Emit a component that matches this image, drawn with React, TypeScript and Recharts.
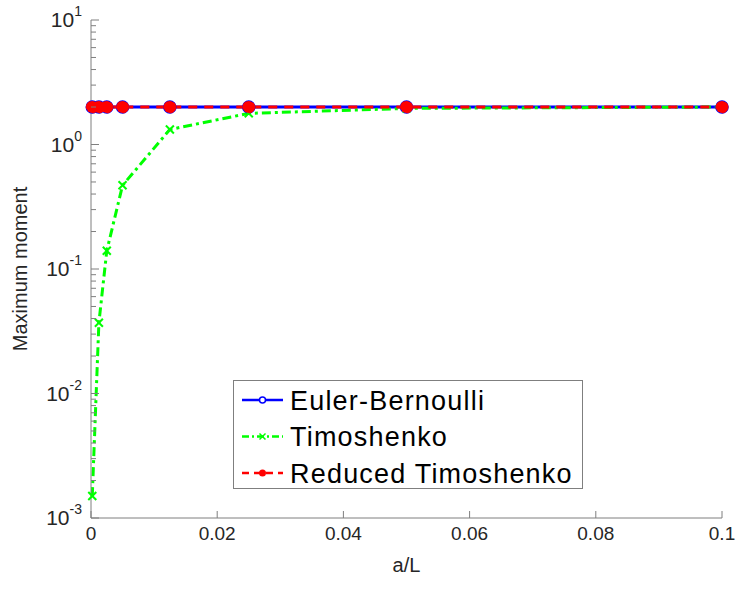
import React from "react";
import { LineChart, Line, XAxis, YAxis, Legend } from "recharts";

const aL = [0.0002, 0.00125, 0.0025, 0.005, 0.0125, 0.025, 0.05, 0.1];
const euler = [2, 2, 2, 2, 2, 2, 2, 2];
const timo = [0.0015, 0.037, 0.14, 0.47, 1.32, 1.78, 1.95, 2.0];
const reduced = [2, 2, 2, 2, 2, 2, 2, 2];

const xTicks = [0, 0.02, 0.04, 0.06, 0.08, 0.1];
const xTickLabels = ["0", "0.02", "0.04", "0.06", "0.08", "0.1"];
const decades = [-3, -2, -1, 0, 1];

const yTicks: number[] = [];
decades.forEach((d, i) => {
  yTicks.push(Math.pow(10, d));
  if (i < decades.length - 1) {
    for (let m = 2; m <= 9; m++) yTicks.push(m * Math.pow(10, d));
  }
});

const data = aL.map((x, i) => ({ x, eb: euler[i], t: timo[i], rt: reduced[i] }));

const AXIS = "#7f7f7f";
const TXT = "#262626";
const FONT = "'Liberation Sans', Arial, Helvetica, sans-serif";

function YTick({ x, y, payload }: any) {
  const v = payload.value;
  const lg = Math.log10(v);
  const major = Math.abs(lg - Math.round(lg)) < 1e-6;
  return (
    <g>
      <line x1={x} x2={x + (major ? 8 : 5)} y1={y} y2={y} stroke={AXIS} strokeWidth={1} />
      {major && (
        <text x={x - 9} y={y + 7} textAnchor="end" fill={TXT} fontSize={21} fontFamily={FONT}>
          <tspan>10</tspan>
          <tspan dy={-11} fontSize={14}>{String(Math.round(lg))}</tspan>
        </text>
      )}
    </g>
  );
}

function XTick({ x, y, payload, index }: any) {
  return (
    <g>
      <line x1={x} x2={x} y1={y} y2={y - 7} stroke={AXIS} strokeWidth={1} />
      <text x={x} y={y + 22} textAnchor="middle" fill={TXT} fontSize={19} fontFamily={FONT}>
        {xTickLabels[index] ?? payload.value}
      </text>
    </g>
  );
}

function CrossDot({ cx, cy }: any) {
  if (cx == null || cy == null) return null;
  const s = 4;
  return (
    <g>
      <line x1={cx - s} y1={cy - s} x2={cx + s} y2={cy + s} stroke="#00ff00" strokeWidth={2} />
      <line x1={cx - s} y1={cy + s} x2={cx + s} y2={cy - s} stroke="#00ff00" strokeWidth={2} />
    </g>
  );
}

function LegendBox() {
  const rows = [
    { label: "Euler-Bernoulli", color: "#0000ff", dash: undefined, marker: "o" },
    { label: "Timoshenko", color: "#00ff00", dash: "7 3 2 3", marker: "x" },
    { label: "Reduced Timoshenko", color: "#ff0000", dash: "7 5", marker: "." },
  ];
  return (
    <svg width={350} height={109} style={{ display: "block" }}>
      <rect x={0.5} y={0.5} width={349} height={108} fill="#fff" stroke={AXIS} />
      {rows.map((r, i) => {
        const cy = 20 + i * 36.5;
        return (
          <g key={r.label}>
            <line x1={9} x2={50} y1={cy} y2={cy} stroke={r.color} strokeWidth={2.5} strokeDasharray={r.dash} />
            {r.marker === "o" && <circle cx={29.5} cy={cy} r={3} fill="#fff" stroke={r.color} strokeWidth={1.5} />}
            {r.marker === "x" && (
              <g stroke={r.color} strokeWidth={1.5}>
                <line x1={26.5} y1={cy - 3} x2={32.5} y2={cy + 3} />
                <line x1={26.5} y1={cy + 3} x2={32.5} y2={cy - 3} />
              </g>
            )}
            {r.marker === "." && <circle cx={29.5} cy={cy} r={3.5} fill={r.color} />}
            <text x={57} y={cy + 9.5} fill="#000" fontSize={27} letterSpacing={1.2} fontFamily={FONT}>
              {r.label}
            </text>
          </g>
        );
      })}
    </svg>
  );
}

export default function App() {
  return (
    <div style={{ position: "absolute", left: 0, top: 0, background: "#fff" }}>
      <LineChart width={740} height={590} data={data} margin={{ top: 20, right: 18, bottom: 0, left: 0 }}>
        <XAxis
          dataKey="x"
          type="number"
          domain={[0, 0.1]}
          ticks={xTicks}
          tick={<XTick />}
          tickLine={false}
          tickSize={0}
          tickMargin={0}
          stroke={AXIS}
          height={72}
          interval={0}
          label={{ value: "a/L", position: "insideBottom", offset: 18, fill: TXT, fontSize: 20, fontFamily: FONT }}
        />
        <YAxis
          type="number"
          scale="log"
          domain={[0.001, 10]}
          allowDataOverflow
          ticks={yTicks}
          tick={<YTick />}
          tickLine={false}
          tickSize={0}
          tickMargin={0}
          interval={0}
          stroke={AXIS}
          width={91}
          label={{ value: "Maximum moment", angle: -90, position: "insideLeft", offset: 20, fill: TXT, fontSize: 20, fontFamily: FONT, style: { textAnchor: "middle" } }}
        />
        <Legend
          layout="horizontal"
          verticalAlign="middle"
          align="center"
          content={<LegendBox />}
          wrapperStyle={{ left: 233, top: 380, width: 350, height: 109 }}
        />
        <Line
          dataKey="eb"
          stroke="#0000ff"
          strokeWidth={3}
          dot={{ r: 6, fill: "#fff", stroke: "#0000ff", strokeWidth: 1.5 }}
          isAnimationActive={false}
        />
        <Line
          dataKey="t"
          stroke="#00ff00"
          strokeWidth={3}
          strokeDasharray="9 4 3 4"
          dot={<CrossDot />}
          isAnimationActive={false}
        />
        <Line
          dataKey="rt"
          stroke="#ff0000"
          strokeWidth={3}
          strokeDasharray="9 7"
          dot={{ r: 6, fill: "#ff0000", stroke: "#ff0000", strokeWidth: 1 }}
          isAnimationActive={false}
        />
      </LineChart>
    </div>
  );
}
